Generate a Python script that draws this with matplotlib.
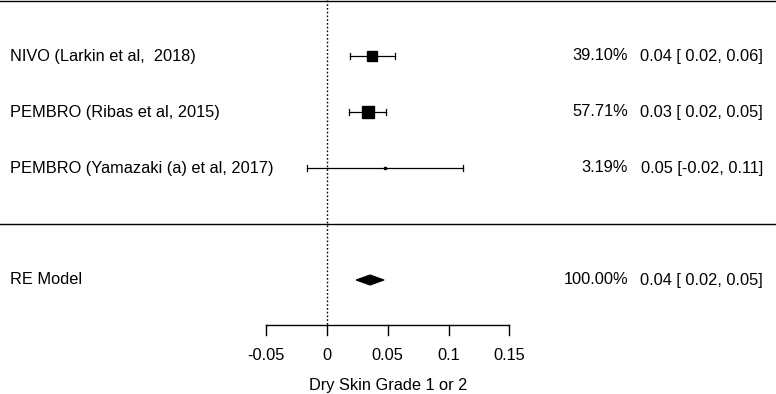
import numpy as np
import matplotlib.pyplot as plt
from matplotlib.patches import Polygon

plt.rcParams['font.family'] = ['Liberation Sans', 'DejaVu Sans']

# study data
studies = ['NIVO (Larkin et al,  2018)', 'PEMBRO (Ribas et al, 2015)', 'PEMBRO (Yamazaki (a) et al, 2017)']
est = [0.037, 0.0335, 0.0477]
ci_lo = [0.019, 0.0184, -0.0165]
ci_hi = [0.0557, 0.0486, 0.112]
weights = [39.10, 57.71, 3.19]

re_label = 'RE Model'
re_est = 0.0354
re_lo = 0.024
re_hi = 0.047
re_weight = 100.00

xticks = [-0.05, 0, 0.05, 0.1, 0.15]
xtick_labels = ['-0.05', '0', '0.05', '0.1', '0.15']
xlabel = 'Dry Skin Grade 1 or 2'

# layout: pixel 327 is x=0, 1215 px per unit; rows every 56 px
px0, ppu = 327, 1215.0
W, H = 776, 394
fig = plt.figure(figsize=(W / 100, H / 100), dpi=100)
ax = fig.add_axes([0, 0, 1, 1])
ax.set_xlim(-px0 / ppu, (W - px0) / ppu)
ax.set_ylim((224 - H) / 56, 224 / 56)
ax.axis('off')

rows = np.arange(len(studies), 0, -1)
fs = 11.8

# horizontal separators
ax.axhline(3.98, color='black', lw=1)
ax.axhline(0, color='black', lw=1)
# reference line at zero
ax.plot([0, 0], [4, -1.8], color='black', lw=1, ls=(0, (1.2, 1.5)))

psize = 11.3 * np.sqrt(np.array(weights) / max(weights))
cap = 0.062
for r, name, e, lo, hi, w, s in zip(rows, studies, est, ci_lo, ci_hi, weights, psize):
    ax.plot([lo, hi], [r, r], color='black', lw=0.9)
    ax.plot([lo, lo], [r - cap, r + cap], color='black', lw=0.9)
    ax.plot([hi, hi], [r - cap, r + cap], color='black', lw=0.9)
    ax.plot([e], [r], marker='s', color='black', markersize=max(s, 2.5) * 0.72, mec='black')
    ax.text(-0.2609, r, name, fontsize=fs, va='center', ha='left')
    ax.text(0.2477, r, f'{w:.2f}%', fontsize=fs, va='center', ha='right')
    ax.text(0.3588, r, f'{e:.2f} [{lo:5.2f}, {hi:.2f}]', fontsize=fs, va='center', ha='right')

# summary diamond
ry = -1
dh = 0.09
ax.add_patch(Polygon([[re_lo, ry], [re_est, ry + dh], [re_hi, ry], [re_est, ry - dh]],
                     closed=True, facecolor='black', edgecolor='black', lw=0.8))
ax.text(-0.2609, ry, re_label, fontsize=fs, va='center', ha='left')
ax.text(0.2477, ry, f'{re_weight:.2f}%', fontsize=fs, va='center', ha='right')
ax.text(0.3588, ry, f'{re_est:.2f} [{re_lo:5.2f}, {re_hi:.2f}]', fontsize=fs, va='center', ha='right')

# x axis drawn by hand, R style
ya = -1.804
ax.plot([xticks[0], xticks[-1]], [ya, ya], color='black', lw=1)
for t, lab in zip(xticks, xtick_labels):
    ax.plot([t, t], [ya, ya - 0.18], color='black', lw=1)
    ax.text(t, -2.34, lab, fontsize=fs, ha='center', va='center')
ax.text(np.mean([xticks[0], xticks[-1]]), -2.89, xlabel, fontsize=fs, ha='center', va='center')

fig.savefig('out.png', dpi=100)
